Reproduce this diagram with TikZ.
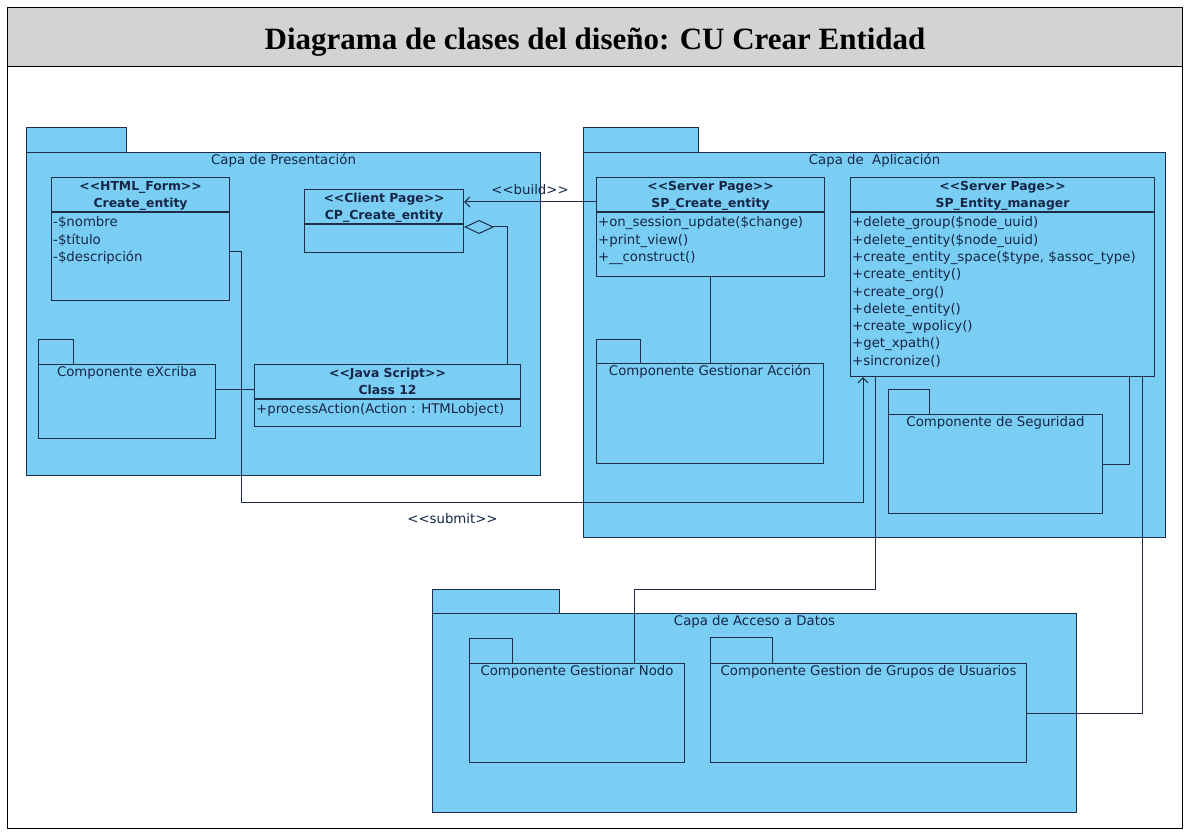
\documentclass[tikz,border=0pt]{standalone}
\usepackage{xcolor}
\usepackage{fontspec}
\usepackage{tikz}
\usetikzlibrary{arrows.meta}

\newfontfamily\umlfont{DejaVu Sans}
\newfontfamily\titlefont{Liberation Serif}

\definecolor{capa}{RGB}{122,206,244}
\definecolor{borde}{RGB}{31,45,72}
\definecolor{texto}{RGB}{22,38,70}
\definecolor{cabecera}{RGB}{211,211,211}

\newcommand{\st}[1]{<\kern0pt<#1>\kern0pt>}

\begin{document}
\begin{tikzpicture}[x=1pt,y=-1pt]
	\tikzstyle{umlline}=[draw=borde,line width=1.1pt]
	\tikzstyle{pkgtab}=[draw=borde,line width=0.9pt,fill=capa]
	\tikzstyle{pkgbody}=[umlline,fill=capa,rectangle,anchor=north west,inner sep=0pt]
	\tikzstyle{pkglabel}=[anchor=north,inner sep=0pt,yshift=-1.5pt,text=texto,font=\umlfont\fontsize{13.3}{16}\selectfont]
	\tikzstyle{classbox}=[umlline,fill=capa,rectangle,anchor=north west,inner sep=0pt]
	\tikzstyle{classhead}=[anchor=north,inner sep=0pt,yshift=-1pt,align=center,text=texto,font=\umlfont\bfseries\fontsize{12.4}{17}\selectfont]
	\tikzstyle{classbody}=[anchor=north west,inner sep=0pt,align=left,text=texto,font=\umlfont\fontsize{13.3}{17.3}\selectfont]
	\tikzstyle{conector}=[draw=borde,line width=1pt]
	\tikzstyle{etiqueta}=[inner sep=0pt,text=texto,font=\umlfont\fontsize{13.3}{16}\selectfont]
	\tikzstyle{abierta}=[-{Straight Barb[length=5pt,width=10pt]}]
	\useasboundingbox (0,0) rectangle (1186,834);

	% marco y titulo
	\node[draw=black,line width=1.2pt,anchor=north west,minimum width=1175pt,minimum height=821pt,inner sep=0pt](marco) at (7,7) {};
	\node[draw=black,fill=cabecera,line width=1.2pt,anchor=north west,minimum width=1175pt,minimum height=59pt,inner sep=0pt,text height=24pt,text depth=0pt,font=\titlefont\bfseries\fontsize{31}{31}\selectfont](titulo) at (7,7) {Diagrama de clases del diseño: CU Crear Entidad};

	% capas
	\draw[pkgtab] (26,152) rectangle ++(100,-25);
	\node[pkgbody,minimum width=514pt,minimum height=323pt](pres) at (26,152) {};
	\node[pkglabel](pres-lbl) at (pres.north) {\strut Capa de Presentación};

	\draw[pkgtab] (583,152) rectangle ++(115,-25);
	\node[pkgbody,minimum width=582pt,minimum height=385pt](apl) at (583,152) {};
	\node[pkglabel](apl-lbl) at (apl.north) {\strut Capa de\ \ Aplicación};

	\draw[pkgtab] (432,613) rectangle ++(127,-24);
	\node[pkgbody,minimum width=644pt,minimum height=199pt](dat) at (432,613) {};
	\node[pkglabel](dat-lbl) at (dat.north) {\strut Capa de Acceso a Datos};

	% componentes
	\draw[pkgtab] (38,364) rectangle ++(35,-25);
	\node[pkgbody,minimum width=177pt,minimum height=74pt](excriba) at (38,364) {};
	\node[pkglabel](excriba-lbl) at (excriba.north) {\strut Componente eXcriba};

	\draw[pkgtab] (596,363) rectangle ++(44,-24);
	\node[pkgbody,minimum width=227pt,minimum height=100pt](gacc) at (596,363) {};
	\node[pkglabel](gacc-lbl) at (gacc.north) {\strut Componente Gestionar Acción};

	\draw[pkgtab] (888,414) rectangle ++(41,-25);
	\node[pkgbody,minimum width=214pt,minimum height=99pt](seg) at (888,414) {};
	\node[pkglabel](seg-lbl) at (seg.north) {\strut Componente de Seguridad};

	\draw[pkgtab] (469,663) rectangle ++(43,-25);
	\node[pkgbody,minimum width=215pt,minimum height=99pt](gnodo) at (469,663) {};
	\node[pkglabel](gnodo-lbl) at (gnodo.north) {\strut Componente Gestionar Nodo};

	\draw[pkgtab] (710,663) rectangle ++(62,-26);
	\node[pkgbody,minimum width=316pt,minimum height=99pt](ggrup) at (710,663) {};
	\node[pkglabel](ggrup-lbl) at (ggrup.north) {\strut Componente Gestion de Grupos de Usuarios};

	% clases
	\node[classbox,minimum width=178pt,minimum height=123pt](form) at (51,177) {};
	\draw[umlline] ([yshift=-35pt]form.north west) -- ([yshift=-35pt]form.north east);
	\node[classhead](form-head) at (form.north) {\strut\st{HTML\_Form}\\Create\_entity};
	\node[classbody](form-body) at ([xshift=2pt,yshift=-37.5pt]form.north west) {\strut -\$nombre\\-\$título\\-\$descripción};

	\node[classbox,minimum width=159pt,minimum height=63pt](cpage) at (304,189) {};
	\draw[umlline] ([yshift=-35pt]cpage.north west) -- ([yshift=-35pt]cpage.north east);
	\node[classhead](cpage-head) at (cpage.north) {\strut\st{Client Page}\\CP\_Create\_entity};

	\node[classbox,minimum width=266pt,minimum height=62pt](js) at (254,364) {};
	\draw[umlline] ([yshift=-35pt]js.north west) -- ([yshift=-35pt]js.north east);
	\node[classhead](js-head) at (js.north) {\strut\st{Java Script}\\Class 12};
	\node[classbody](js-body) at ([xshift=2pt,yshift=-37.5pt]js.north west) {\strut +processAction(Action : HTMLobject)};

	\node[classbox,minimum width=228pt,minimum height=99pt](spce) at (596,177) {};
	\draw[umlline] ([yshift=-35pt]spce.north west) -- ([yshift=-35pt]spce.north east);
	\node[classhead](spce-head) at (spce.north) {\strut\st{Server Page}\\SP\_Create\_entity};
	\node[classbody](spce-body) at ([xshift=2pt,yshift=-37.5pt]spce.north west) {\strut +on\_session\_update(\$change)\\+print\_view()\\+\_\_construct()};

	\node[classbox,minimum width=304pt,minimum height=199pt](spem) at (850,177) {};
	\draw[umlline] ([yshift=-35pt]spem.north west) -- ([yshift=-35pt]spem.north east);
	\node[classhead](spem-head) at (spem.north) {\strut\st{Server Page}\\SP\_Entity\_manager};
	\node[classbody](spem-body) at ([xshift=2pt,yshift=-37.5pt]spem.north west) {\strut +delete\_group(\$node\_uuid)\\+delete\_entity(\$node\_uuid)\\+create\_entity\_space(\$type, \$assoc\_type)\\+create\_entity()\\+create\_org()\\+delete\_entity()\\+create\_wpolicy()\\+get\_xpath()\\+sincronize()};

	% relaciones
	\draw[conector,abierta] ([yshift=-25pt]spce.north west) -- node[etiqueta,above=7pt]{\st{build}} ([yshift=-13pt]cpage.north east);
	\draw[conector,-{Diamond[open,length=30pt,width=14pt]}] ([xshift=253pt]js.north west) |- ([yshift=-38pt]cpage.north east);
	\draw[conector] ([yshift=-25pt]excriba.north east) -- ([yshift=-25pt]js.north west);
	\coordinate (sub) at (241,502);
	\draw[conector,abierta] ([yshift=-75pt]form.north east) -| (sub) -| node[etiqueta,pos=0.17,below=11pt]{\st{submit}} ([xshift=13pt]spem.south west);
	\draw[conector] ([xshift=114pt]spce.south west) -- ([xshift=114pt]gacc.north west);
	\coordinate (codo) at (634,589);
	\draw[conector] ([xshift=25pt]spem.south west) |- (codo) -- (codo |- gnodo.north);
	\draw[conector] ([xshift=279pt]spem.south west) |- (seg.east);
	\draw[conector] ([xshift=292pt]spem.south west) |- (ggrup.east);
\end{tikzpicture}
\end{document}
